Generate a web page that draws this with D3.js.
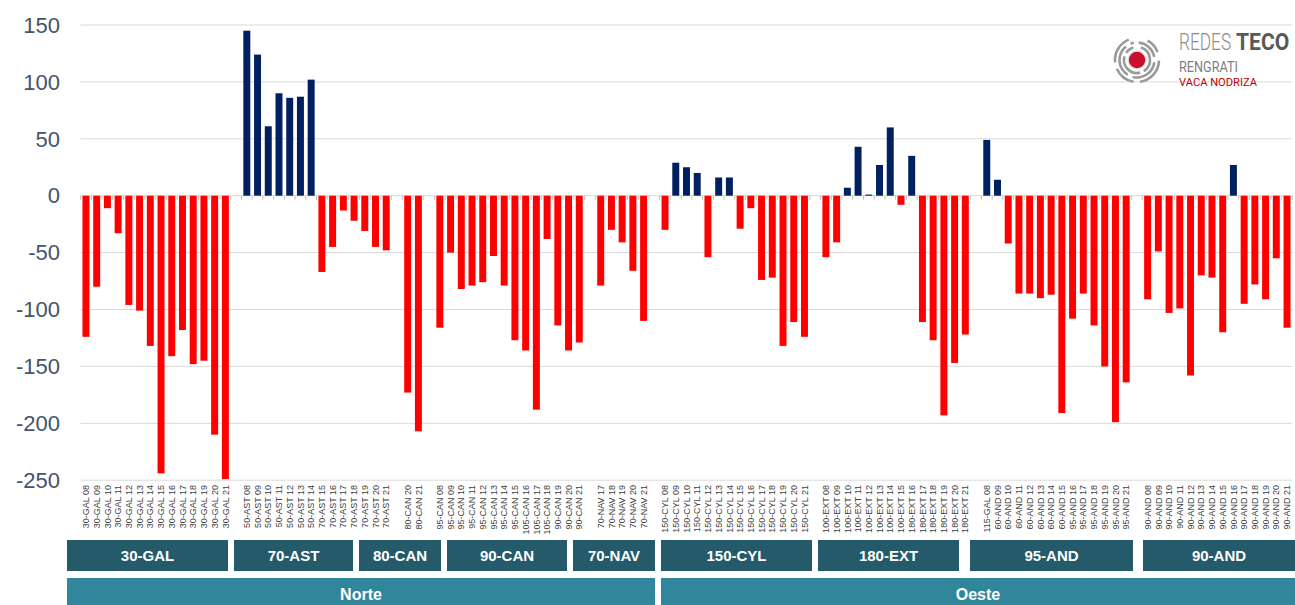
<!DOCTYPE html>
<html>
<head>
<meta charset="utf-8">
<script src="https://cdn.jsdelivr.net/npm/d3@7"></script>
<style>
	body { margin: 0; background: #fff; }
	svg { display: block; font-family: 'Liberation Sans', Arial, sans-serif; }
</style>
</head>
<body>
<div id="chart"></div>
<script>

// one slot per bar, '' marks the empty slot between groups
var labels = [
	'30-GAL 08','30-GAL 09','30-GAL 10','30-GAL 11','30-GAL 12','30-GAL 13','30-GAL 14',
	'30-GAL 15','30-GAL 16','30-GAL 17','30-GAL 18','30-GAL 19','30-GAL 20','30-GAL 21',
	'',
	'50-AST 08','50-AST 09','50-AST 10','50-AST 11','50-AST 12','50-AST 13','50-AST 14',
	'70-AST 15','70-AST 16','70-AST 17','70-AST 18','70-AST 19','70-AST 20','70-AST 21',
	'',
	'80-CAN 20','80-CAN 21',
	'',
	'95-CAN 08','95-CAN 09','95-CAN 10','95-CAN 11','95-CAN 12','95-CAN 13','95-CAN 14',
	'95-CAN 15','105-CAN 16','105-CAN 17','105-CAN 18','90-CAN 19','90-CAN 20','90-CAN 21',
	'',
	'70-NAV 17','70-NAV 18','70-NAV 19','70-NAV 20','70-NAV 21',
	'',
	'150-CYL 08','150-CYL 09','150-CYL 10','150-CYL 11','150-CYL 12','150-CYL 13','150-CYL 14',
	'150-CYL 15','150-CYL 16','150-CYL 17','150-CYL 18','150-CYL 19','150-CYL 20','150-CYL 21',
	'',
	'100-EXT 08','100-EXT 09','100-EXT 10','100-EXT 11','100-EXT 12','100-EXT 13','100-EXT 14',
	'100-EXT 15','180-EXT 16','180-EXT 17','180-EXT 18','180-EXT 19','180-EXT 20','180-EXT 21',
	'',
	'115-GAL 08','60-AND 09','60-AND 10','60-AND 11','60-AND 12','60-AND 13','60-AND 14',
	'60-AND 15','95-AND 16','95-AND 17','95-AND 18','95-AND 19','95-AND 20','95-AND 21',
	'',
	'90-AND 08','90-AND 09','90-AND 10','90-AND 11','90-AND 12','90-AND 13','90-AND 14',
	'90-AND 15','90-AND 16','90-AND 17','90-AND 18','90-AND 19','90-AND 20','90-AND 21'
]

var values = [
	-124, -80, -11, -33, -96, -101, -132, -244, -141, -118, -148, -145, -210, -249,
	null,
	145, 124, 61, 90, 86, 87, 102, -67, -45, -13, -22, -31, -45, -48,
	null,
	-173, -207,
	null,
	-116, -50, -82, -79, -76, -53, -79, -127, -136, -188, -38, -114, -136, -129,
	null,
	-79, -30, -41, -66, -110,
	null,
	-30, 29, 25, 20, -54, 16, 16, -29, -11, -74, -72, -132, -111, -124,
	null,
	-54, -41, 7, 43, 1, 27, 60, -8, 35, -111, -127, -193, -147, -122,
	null,
	49, 14, -42, -86, -86, -90, -87, -191, -108, -86, -114, -150, -199, -164,
	null,
	-91, -49, -103, -99, -158, -70, -72, -120, 27, -95, -78, -91, -55, -116
]

var y_ticks = [150, 100, 50, 0, -50, -100, -150, -200, -250]

var groups = ['30-GAL', '70-AST', '80-CAN', '90-CAN', '70-NAV', '150-CYL', '180-EXT', '95-AND', '90-AND']
var regions = ['Norte', 'Oeste']

// the banner boxes were laid out by hand in the original, so keep their extents as layout
var group_boxes = [[67, 228], [234, 353], [359, 441], [447, 567], [573, 655], [661, 812], [818, 959], [970, 1133], [1143, 1295]]
var region_boxes = [[67, 655], [661, 1295]]

var width = 1295,
	height = 605,
	left = 80.6,
	right = 1292.4,
	top_y = 25,
	bottom_y = 480.2

var svg = d3.select('#chart')
	.append('svg')
	.attr('width', width)
	.attr('height', height)

var x = d3.scaleBand()
	.domain(d3.range(labels.length))
	.range([left, right])
	.paddingInner(0.35)
	.paddingOuter(0.175)

var y = d3.scaleLinear()
	.domain([-250, 150])
	.range([bottom_y, top_y])

// gridlines
svg.append('g')
	.selectAll('line')
	.data(y_ticks)
	.join('line')
		.attr('x1', left)
		.attr('x2', right)
		.attr('y1', d => y(d))
		.attr('y2', d => y(d))
		.attr('stroke', '#d9d9d9')
		.attr('stroke-width', 1)

// y labels
svg.append('g')
	.selectAll('text')
	.data(y_ticks)
	.join('text')
		.attr('x', 60)
		.attr('y', d => y(d))
		.attr('dy', '0.35em')
		.attr('text-anchor', 'end')
		.attr('fill', '#44546a')
		.attr('font-size', 22)
		.text(d => d)

// bars
var bars = labels.map((l, i) => ({i: i, label: l, value: values[i]}))
	.filter(d => d.value !== null)

svg.append('g')
	.selectAll('rect')
	.data(bars)
	.join('rect')
		.attr('x', d => x(d.i))
		.attr('width', x.bandwidth())
		.attr('y', d => y(Math.max(0, d.value)))
		.attr('height', d => Math.abs(y(d.value) - y(0)))
		.attr('fill', d => d.value >= 0 ? '#002060' : '#ff0000')

// category ticks on the zero line
var step = x.step()
var offset = step * x.paddingInner() / 2

svg.append('g')
	.selectAll('line')
	.data(d3.range(labels.length + 1))
	.join('line')
		.attr('x1', i => i < labels.length ? x(i) - offset : x(i - 1) + x.bandwidth() + offset)
		.attr('x2', i => i < labels.length ? x(i) - offset : x(i - 1) + x.bandwidth() + offset)
		.attr('y1', y(0))
		.attr('y2', y(0) + 4)
		.attr('stroke', '#bfbfbf')

// x labels
svg.append('g')
	.selectAll('text')
	.data(bars)
	.join('text')
		.attr('transform', d => 'translate(' + (x(d.i) + x.bandwidth() / 2) + ',' + 485 + ') rotate(-90)')
		.attr('dy', '0.35em')
		.attr('text-anchor', 'end')
		.attr('fill', '#404040')
		.attr('font-size', 9)
		.text(d => d.label)

// group banners
var banner = svg.append('g')

banner.selectAll('rect.group')
	.data(groups)
	.join('rect')
		.attr('class', 'group')
		.attr('x', (d, i) => group_boxes[i][0])
		.attr('width', (d, i) => group_boxes[i][1] - group_boxes[i][0])
		.attr('y', 540)
		.attr('height', 31)
		.attr('fill', '#245a69')

banner.selectAll('text.group')
	.data(groups)
	.join('text')
		.attr('class', 'group')
		.attr('x', (d, i) => (group_boxes[i][0] + group_boxes[i][1]) / 2)
		.attr('y', 561)
		.attr('text-anchor', 'middle')
		.attr('fill', '#fff')
		.attr('font-weight', 'bold')
		.attr('font-size', 15)
		.text(d => d)

banner.selectAll('rect.region')
	.data(regions)
	.join('rect')
		.attr('class', 'region')
		.attr('x', (d, i) => region_boxes[i][0])
		.attr('width', (d, i) => region_boxes[i][1] - region_boxes[i][0])
		.attr('y', 578)
		.attr('height', 27)
		.attr('fill', '#31869b')

banner.selectAll('text.region')
	.data(regions)
	.join('text')
		.attr('class', 'region')
		.attr('x', (d, i) => (region_boxes[i][0] + region_boxes[i][1]) / 2)
		.attr('y', 600)
		.attr('text-anchor', 'middle')
		.attr('fill', '#fff')
		.attr('font-weight', 'bold')
		.attr('font-size', 16)
		.text(d => d)

// logo
var logo = svg.append('g')
	.attr('transform', 'translate(1137,60)')

var arc = d3.arc()

var rings = [
	{r: 13, segs: [[0.3, 2.6], [2.9, 5.0], [5.3, 6.0]]},
	{r: 17.5, segs: [[0.1, 1.4], [1.7, 3.4], [3.7, 5.6], [5.9, 6.1]]},
	{r: 22, segs: [[0.5, 1.2], [1.6, 3.0], [3.3, 4.3], [4.6, 5.9]]}
]

rings.forEach(ring => {
	logo.selectAll(null)
		.data(ring.segs)
		.join('path')
			.attr('d', s => arc({innerRadius: ring.r - 1.3, outerRadius: ring.r + 1.3, startAngle: s[0], endAngle: s[1]}))
			.attr('fill', '#9a9a9a')
})

logo.append('circle')
	.attr('r', 9)
	.attr('fill', '#c8102e')
	.attr('stroke', '#e6e6e6')
	.attr('stroke-width', 1.5)

// brand words are narrow, so squeeze them horizontally
svg.append('text')
	.attr('transform', 'translate(1179,50) scale(0.72,1)')
	.attr('font-family', 'Roboto, sans-serif')
	.attr('font-size', 24)
	.attr('font-weight', 300)
	.attr('fill', '#8c8c8c')
	.text('REDES')

svg.append('text')
	.attr('transform', 'translate(1236,50) scale(0.88,1)')
	.attr('font-family', 'Roboto, sans-serif')
	.attr('font-size', 24)
	.attr('font-weight', 700)
	.attr('fill', '#595959')
	.text('TECO')

svg.append('text')
	.attr('x', 1179)
	.attr('y', 72)
	.attr('font-family', 'Roboto, sans-serif')
	.attr('font-size', 15)
	.attr('textLength', 59)
	.attr('lengthAdjust', 'spacingAndGlyphs')
	.attr('fill', '#7f7f7f')
	.text('RENGRATI')

svg.append('text')
	.attr('x', 1179)
	.attr('y', 86)
	.attr('font-family', 'Roboto, sans-serif')
	.attr('font-size', 11)
	.attr('textLength', 78)
	.attr('lengthAdjust', 'spacingAndGlyphs')
	.attr('fill', '#c00000')
	.text('VACA NODRIZA')

</script>
</body>
</html>
